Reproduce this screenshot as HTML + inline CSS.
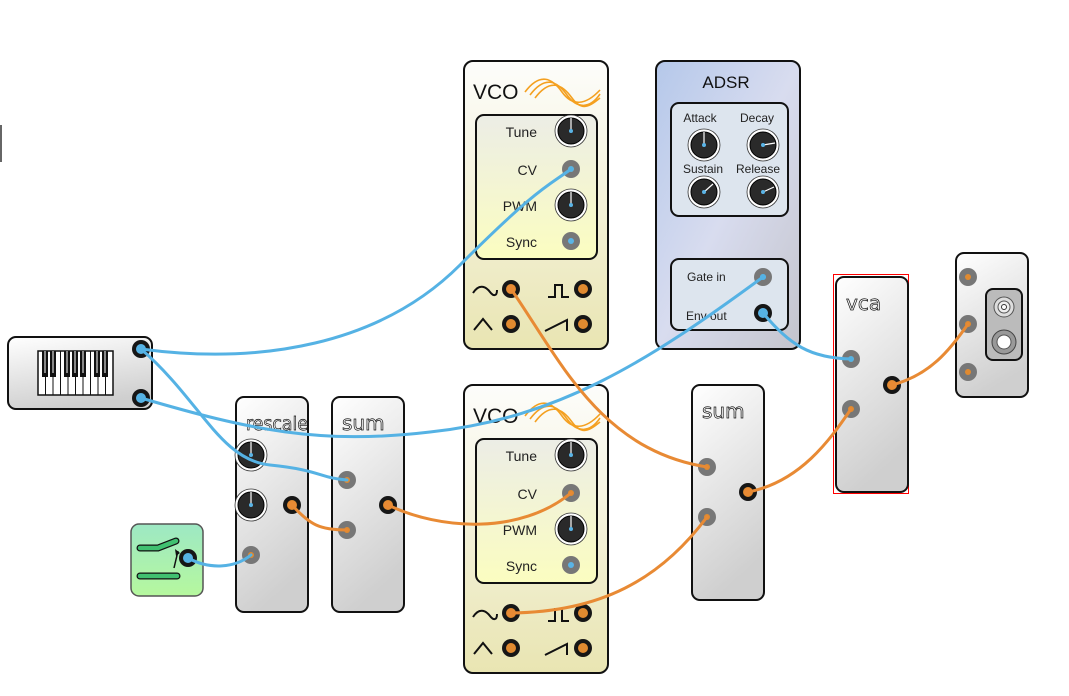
<!DOCTYPE html>
<html><head><meta charset="utf-8"><style>
html,body{margin:0;padding:0;background:#fff;}
svg{display:block;font-family:"Liberation Sans",sans-serif;}
.thin{font-family:"DejaVu Sans",sans-serif;fill:none;stroke:#111;stroke-width:0.7;}
</style></head><body>
<svg width="1069" height="696" viewBox="0 0 1069 696" xmlns="http://www.w3.org/2000/svg">
<defs>
<linearGradient id="gm" x1="0" y1="0" x2="0.3" y2="1"><stop offset="0" stop-color="#ffffff"/><stop offset="1" stop-color="#cfcfcf"/></linearGradient>
<linearGradient id="gv" x1="0" y1="0" x2="0" y2="1"><stop offset="0" stop-color="#fdfdfb"/><stop offset="0.5" stop-color="#f3f1d8"/><stop offset="1" stop-color="#e9e5b2"/></linearGradient>
<linearGradient id="gvi" x1="0" y1="0" x2="0" y2="1"><stop offset="0" stop-color="#ecede6"/><stop offset="1" stop-color="#fbfdc0"/></linearGradient>
<linearGradient id="ga" x1="0" y1="0" x2="1" y2="1"><stop offset="0" stop-color="#b5c8ea"/><stop offset="0.5" stop-color="#d8dcef"/><stop offset="1" stop-color="#c4c4cc"/></linearGradient>
<linearGradient id="gg" x1="0" y1="0" x2="0" y2="1"><stop offset="0" stop-color="#9de8c4"/><stop offset="1" stop-color="#b6f89e"/></linearGradient>
<g id="knob"><circle r="16" fill="#fff" stroke="#333" stroke-width="0.8"/><circle r="13" fill="#2a2a2a" stroke="#000" stroke-width="1"/><line x1="0" y1="0" x2="0" y2="-13" stroke="#fff" stroke-width="1.2"/><circle r="2" fill="#5ab4e6"/></g>
<g id="out"><circle r="9" fill="#161616"/><circle r="5" fill="#e08a30"/></g>
<g id="in"><circle r="9" fill="#777"/><circle r="3" fill="#e08a30"/></g>
<g id="inb"><circle r="9" fill="#777"/><circle r="3" fill="#5ab4e6"/></g>
<g id="outb"><circle r="9" fill="#161616"/><circle r="5" fill="#5ab4e6"/></g>
</defs>

<line x1="1" y1="125" x2="1" y2="162" stroke="#333" stroke-width="1.5"/>

<!-- VCO 1 -->
<g>
<rect x="464" y="61" width="144" height="288" rx="9" fill="url(#gv)" stroke="#111" stroke-width="2"/>
<text x="473" y="99" font-size="21" fill="#111">VCO</text>
<g fill="none" stroke="#f4a020" stroke-width="1.6"><path d="M525,92 C540,72 552,78 562,92 S585,106 600,90"/><path d="M530,95 C545,75 557,81 567,95 S590,109 600,94"/><path d="M535,98 C550,78 562,84 572,98 S590,106 600,98"/></g>
<rect x="476" y="115" width="121" height="144" rx="8" fill="url(#gvi)" stroke="#111" stroke-width="2"/>
<g font-size="14" fill="#222" text-anchor="end"><text x="537" y="137">Tune</text><text x="537" y="175">CV</text><text x="537" y="211">PWM</text><text x="537" y="247">Sync</text></g>
<use href="#knob" x="571" y="131"/><use href="#in" x="571" y="169"/><use href="#knob" x="571" y="205"/><use href="#inb" x="571" y="241"/>
<use href="#out" x="511" y="289"/><use href="#out" x="583" y="289"/><use href="#out" x="511" y="324"/><use href="#out" x="583" y="324"/>
<g fill="none" stroke="#111" stroke-width="2"><path d="M473,293 C480,282 487,288 490,292 S497,297 497,290"/><path d="M548,297 L555,297 L555,285 L562,285 L562,297 L569,297"/><path d="M474,330 L483,319 L492,330"/><path d="M545,331 L567,320 L567,331"/></g>
</g>

<!-- VCO 2 -->
<g>
<rect x="464" y="385" width="144" height="288" rx="9" fill="url(#gv)" stroke="#111" stroke-width="2"/>
<text x="473" y="423" font-size="21" fill="#111">VCO</text>
<g fill="none" stroke="#f4a020" stroke-width="1.6"><path d="M525,416 C540,396 552,402 562,416 S585,430 600,414"/><path d="M530,419 C545,399 557,405 567,419 S590,433 600,418"/><path d="M535,422 C550,402 562,408 572,422 S590,430 600,422"/></g>
<rect x="476" y="439" width="121" height="144" rx="8" fill="url(#gvi)" stroke="#111" stroke-width="2"/>
<g font-size="14" fill="#222" text-anchor="end"><text x="537" y="461">Tune</text><text x="537" y="499">CV</text><text x="537" y="535">PWM</text><text x="537" y="571">Sync</text></g>
<use href="#knob" x="571" y="455"/><use href="#in" x="571" y="493"/><use href="#knob" x="571" y="529"/><use href="#inb" x="571" y="565"/>
<use href="#out" x="511" y="613"/><use href="#out" x="583" y="613"/><use href="#out" x="511" y="648"/><use href="#out" x="583" y="648"/>
<g fill="none" stroke="#111" stroke-width="2"><path d="M473,617 C480,606 487,612 490,616 S497,621 497,614"/><path d="M548,621 L555,621 L555,609 L562,609 L562,621 L569,621"/><path d="M474,654 L483,643 L492,654"/><path d="M545,655 L567,644 L567,655"/></g>
</g>

<!-- ADSR -->
<g>
<rect x="656" y="61" width="144" height="288" rx="9" fill="url(#ga)" stroke="#111" stroke-width="2"/>
<text x="726" y="88" font-size="17" fill="#111" text-anchor="middle">ADSR</text>
<rect x="671" y="103" width="117" height="113" rx="8" fill="#dde5ee" stroke="#111" stroke-width="2"/>
<g font-size="12" fill="#222" text-anchor="middle"><text x="700" y="122">Attack</text><text x="757" y="122">Decay</text><text x="703" y="173">Sustain</text><text x="758" y="173">Release</text></g>
<use href="#knob" x="704" y="145"/>
<g transform="translate(763,145)"><circle r="16" fill="#fff" stroke="#333" stroke-width="0.8"/><circle r="13" fill="#2a2a2a" stroke="#000"/><line x1="0" y1="0" x2="12" y2="-2" stroke="#fff" stroke-width="1.2"/><circle r="2" fill="#5ab4e6"/></g>
<g transform="translate(704,192)"><circle r="16" fill="#fff" stroke="#333" stroke-width="0.8"/><circle r="13" fill="#2a2a2a" stroke="#000"/><line x1="0" y1="0" x2="9" y2="-8" stroke="#fff" stroke-width="1.2"/><circle r="2" fill="#5ab4e6"/></g>
<g transform="translate(763,192)"><circle r="16" fill="#fff" stroke="#333" stroke-width="0.8"/><circle r="13" fill="#2a2a2a" stroke="#000"/><line x1="0" y1="0" x2="11" y2="-5" stroke="#fff" stroke-width="1.2"/><circle r="2" fill="#5ab4e6"/></g>
<rect x="671" y="259" width="117" height="71" rx="8" fill="#dde5ee" stroke="#111" stroke-width="2"/>
<g font-size="12" fill="#222"><text x="687" y="281">Gate in</text><text x="686" y="320">Env out</text></g>
<use href="#inb" x="763" y="277"/><use href="#outb" x="763" y="313"/>
</g>

<!-- keyboard -->
<g>
<rect x="8" y="337" width="144" height="72" rx="8" fill="url(#gm)" stroke="#111" stroke-width="2"/>
<rect x="38" y="351" width="75" height="44" fill="#fff" stroke="#111" stroke-width="1.5"/>
<g stroke="#111" stroke-width="1"><line x1="45.5" y1="351" x2="45.5" y2="395"/><line x1="53" y1="351" x2="53" y2="395"/><line x1="60.5" y1="351" x2="60.5" y2="395"/><line x1="68" y1="351" x2="68" y2="395"/><line x1="75.5" y1="351" x2="75.5" y2="395"/><line x1="83" y1="351" x2="83" y2="395"/><line x1="90.5" y1="351" x2="90.5" y2="395"/><line x1="98" y1="351" x2="98" y2="395"/><line x1="105.5" y1="351" x2="105.5" y2="395"/></g>
<g fill="#111"><rect x="42" y="351" width="6" height="26"/><rect x="50" y="351" width="6" height="26"/><rect x="64" y="351" width="6" height="26"/><rect x="72" y="351" width="6" height="26"/><rect x="80" y="351" width="6" height="26"/><rect x="94" y="351" width="6" height="26"/><rect x="102" y="351" width="6" height="26"/></g>
<g fill="#888"><rect x="44" y="351" width="2" height="22"/><rect x="52" y="351" width="2" height="22"/><rect x="66" y="351" width="2" height="22"/><rect x="74" y="351" width="2" height="22"/><rect x="82" y="351" width="2" height="22"/><rect x="96" y="351" width="2" height="22"/><rect x="104" y="351" width="2" height="22"/></g>
<use href="#outb" x="141" y="349"/><use href="#outb" x="141" y="398"/>
</g>

<!-- switch -->
<g>
<rect x="131" y="524" width="72" height="72" rx="8" fill="url(#gg)" stroke="#555" stroke-width="1.5"/>
<path d="M140,548 L158,548 L176,541" fill="none" stroke="#111" stroke-width="7" stroke-linecap="round"/>
<path d="M140,548 L158,548 L176,541" fill="none" stroke="#40c070" stroke-width="4.5" stroke-linecap="round"/>
<line x1="140" y1="576" x2="177" y2="576" stroke="#111" stroke-width="7" stroke-linecap="round"/>
<line x1="140" y1="576" x2="177" y2="576" stroke="#40c070" stroke-width="4.5" stroke-linecap="round"/>
<path d="M174,568 L178,551" stroke="#111" stroke-width="1.5"/><path d="M175,549 L180,553 L176,556 Z" fill="#111"/>
<use href="#outb" x="188" y="558"/>
</g>

<!-- rescale -->
<g>
<rect x="236" y="397" width="72" height="215" rx="8" fill="url(#gm)" stroke="#111" stroke-width="2"/>
<text class="thin" x="246" y="430" font-size="19" textLength="62" lengthAdjust="spacingAndGlyphs">rescale</text>
<use href="#knob" x="251" y="455"/><use href="#knob" x="251" y="505"/>
<use href="#out" x="292" y="505"/><use href="#in" x="251" y="555"/>
</g>
<!-- sum1 -->
<g>
<rect x="332" y="397" width="72" height="215" rx="8" fill="url(#gm)" stroke="#111" stroke-width="2"/>
<text class="thin" x="342" y="430" font-size="20">sum</text>
<use href="#in" x="347" y="480"/><use href="#in" x="347" y="530"/><use href="#out" x="388" y="505"/>
</g>
<!-- sum2 -->
<g>
<rect x="692" y="385" width="72" height="215" rx="8" fill="url(#gm)" stroke="#111" stroke-width="2"/>
<text class="thin" x="702" y="418" font-size="20">sum</text>
<use href="#in" x="707" y="467"/><use href="#in" x="707" y="517"/><use href="#out" x="748" y="492"/>
</g>
<!-- vca -->
<g>
<rect x="833.5" y="274.5" width="75" height="219" fill="none" stroke="#f00" stroke-width="1"/>
<rect x="836" y="277" width="72" height="215" rx="8" fill="url(#gm)" stroke="#111" stroke-width="2"/>
<text class="thin" x="846" y="310" font-size="20">vca</text>
<use href="#in" x="851" y="359"/><use href="#in" x="851" y="409"/><use href="#out" x="892" y="385"/>
</g>
<!-- output -->
<g>
<rect x="956" y="253" width="72" height="144" rx="8" fill="url(#gm)" stroke="#111" stroke-width="2"/>
<use href="#in" x="968" y="277"/><use href="#in" x="968" y="324"/><use href="#in" x="968" y="372"/>
<rect x="986" y="289" width="36" height="71" rx="7" fill="#bbb" stroke="#111" stroke-width="2"/>
<circle cx="1004" cy="307" r="10" fill="#ddd" stroke="#555"/><circle cx="1004" cy="307" r="6" fill="#eee" stroke="#555"/><circle cx="1004" cy="307" r="2.5" fill="#fff" stroke="#333"/>
<circle cx="1004" cy="342" r="12" fill="#999" stroke="#444"/><circle cx="1004" cy="342" r="7" fill="#fff" stroke="#555"/>
</g>

<!-- wires -->
<g fill="none" stroke-width="3" stroke-linecap="round">
<path d="M141,349 C260,365 380,345 460,265 S550,185 571,169" stroke="#55b2e4"/>
<path d="M141,349 C200,400 220,460 270,465 S320,478 347,480" stroke="#55b2e4"/>
<path d="M141,398 C250,430 320,445 430,432 C560,418 650,360 763,277" stroke="#55b2e4"/>
<path d="M763,313 C790,345 810,358 851,359" stroke="#55b2e4"/>
<path d="M188,558 C210,570 235,568 251,555" stroke="#55b2e4"/>
<path d="M511,289 C560,360 600,450 707,467" stroke="#e88a34"/>
<path d="M292,505 C310,525 320,530 347,530" stroke="#e88a34"/>
<path d="M388,505 C440,530 520,535 571,493" stroke="#e88a34"/>
<path d="M511,613 C600,612 660,580 707,517" stroke="#e88a34"/>
<path d="M748,492 C800,482 830,440 851,409" stroke="#e88a34"/>
<path d="M892,385 C930,375 950,350 968,324" stroke="#e88a34"/>
</g>
<g fill="#55b2e4"><circle cx="141" cy="349" r="4"/><circle cx="141" cy="398" r="4"/><circle cx="763" cy="313" r="4"/><circle cx="188" cy="558" r="4"/><circle cx="571" cy="169" r="3"/><circle cx="763" cy="277" r="3"/><circle cx="851" cy="359" r="3"/></g>
<g fill="#e88a34"><circle cx="511" cy="289" r="4"/><circle cx="292" cy="505" r="4"/><circle cx="388" cy="505" r="4"/><circle cx="511" cy="613" r="4"/><circle cx="748" cy="492" r="4"/><circle cx="892" cy="385" r="4"/></g>
</svg>
</body></html>
